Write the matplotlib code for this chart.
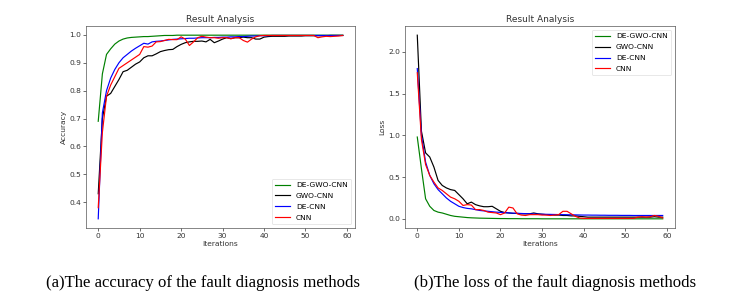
import matplotlib
matplotlib.use("Agg")
import matplotlib.pyplot as plt
import numpy as np

iterations = list(range(60))

acc_degwo = [0.69, 0.86, 0.93, 0.95, 0.967, 0.978, 0.985, 0.989, 0.991, 0.992,
             0.993, 0.994, 0.994, 0.995, 0.996, 0.997, 0.998, 0.998, 0.998, 0.999,
             0.999, 0.999, 0.999, 0.999, 0.999, 0.999, 0.999, 0.999, 0.999, 0.999,
             0.999, 0.999, 0.999, 0.999, 0.999, 0.999, 0.999, 0.999, 0.999, 0.999,
             0.999, 0.999, 0.999, 0.999, 0.999, 0.999, 0.999, 0.999, 0.999, 0.999,
             0.999, 0.999, 0.999, 0.999, 0.999, 0.999, 0.999, 0.999, 0.999, 0.999]
acc_gwo = [0.43, 0.70, 0.78, 0.79, 0.815, 0.84, 0.868, 0.873, 0.884, 0.895,
           0.903, 0.918, 0.925, 0.925, 0.932, 0.94, 0.944, 0.947, 0.948, 0.958,
           0.966, 0.972, 0.975, 0.977, 0.977, 0.978, 0.975, 0.984, 0.972, 0.978,
           0.985, 0.99, 0.987, 0.99, 0.99, 0.992, 0.99, 0.99, 0.985, 0.985,
           0.992, 0.994, 0.995, 0.995, 0.995, 0.995, 0.996, 0.996, 0.996, 0.996,
           0.997, 0.997, 0.997, 0.997, 0.997, 0.997, 0.998, 0.998, 0.998, 0.998]
acc_de = [0.34, 0.72, 0.80, 0.845, 0.876, 0.90, 0.918, 0.93, 0.942, 0.952,
          0.961, 0.97, 0.967, 0.975, 0.977, 0.978, 0.98, 0.982, 0.984, 0.985,
          0.986, 0.987, 0.988, 0.988, 0.989, 0.99, 0.99, 0.99, 0.991, 0.991,
          0.992, 0.992, 0.993, 0.993, 0.994, 0.994, 0.995, 0.996, 0.996, 0.997,
          0.997, 0.997, 0.998, 0.998, 0.998, 0.998, 0.998, 0.998, 0.998, 0.998,
          0.998, 0.998, 0.998, 0.998, 0.998, 0.998, 0.998, 0.998, 0.998, 0.998]
acc_cnn = [0.38, 0.65, 0.78, 0.82, 0.85, 0.88, 0.89, 0.90, 0.91, 0.92,
           0.93, 0.958, 0.956, 0.96, 0.975, 0.976, 0.98, 0.984, 0.983, 0.983,
           0.993, 0.985, 0.962, 0.975, 0.99, 0.995, 0.992, 0.99, 0.99, 0.988,
           0.99, 0.99, 0.986, 0.99, 0.99, 0.98, 0.974, 0.985, 0.993, 0.997,
           0.998, 0.998, 0.998, 0.998, 0.998, 0.998, 0.998, 0.998, 0.998, 0.998,
           0.998, 0.998, 0.998, 0.99, 0.993, 0.995, 0.994, 0.995, 0.996, 0.998]

loss_degwo = [0.98, 0.60, 0.24, 0.15, 0.10, 0.08, 0.07, 0.055, 0.04, 0.03,
              0.025, 0.02, 0.015, 0.012, 0.01, 0.008, 0.007, 0.006, 0.005, 0.004,
              0.003, 0.003, 0.002, 0.002, 0.002, 0.001, 0.001, 0.001, 0.001, 0.001,
              0.0, 0.0, 0.0, 0.0, 0.0, 0.0, 0.0, 0.0, 0.0, 0.0,
              0.0, 0.0, 0.0, 0.0, 0.0, 0.0, 0.0, 0.0, 0.0, 0.0,
              0.0, 0.0, 0.0, 0.0, 0.0, 0.0, 0.0, 0.0, 0.0, 0.0]
loss_gwo = [2.2, 1.05, 0.79, 0.74, 0.62, 0.46, 0.40, 0.37, 0.35, 0.34,
            0.29, 0.24, 0.18, 0.20, 0.17, 0.155, 0.145, 0.145, 0.15, 0.12,
            0.09, 0.075, 0.07, 0.065, 0.065, 0.06, 0.06, 0.06, 0.07, 0.06,
            0.055, 0.05, 0.05, 0.045, 0.045, 0.04, 0.04, 0.035, 0.035, 0.03,
            0.025, 0.02, 0.02, 0.02, 0.02, 0.02, 0.02, 0.02, 0.02, 0.02,
            0.02, 0.02, 0.02, 0.02, 0.02, 0.02, 0.02, 0.025, 0.02, 0.02]
loss_de = [1.80, 1.0, 0.68, 0.52, 0.42, 0.35, 0.30, 0.25, 0.21, 0.18,
           0.15, 0.135, 0.125, 0.12, 0.11, 0.10, 0.095, 0.09, 0.085, 0.08,
           0.077, 0.074, 0.071, 0.068, 0.066, 0.064, 0.062, 0.06, 0.058, 0.056,
           0.055, 0.054, 0.053, 0.052, 0.051, 0.05, 0.049, 0.048, 0.047, 0.046,
           0.045, 0.045, 0.044, 0.044, 0.043, 0.043, 0.042, 0.042, 0.042, 0.041,
           0.041, 0.041, 0.04, 0.04, 0.04, 0.04, 0.04, 0.04, 0.04, 0.04]
loss_cnn = [1.75, 0.95, 0.65, 0.52, 0.44, 0.37, 0.34, 0.30, 0.26, 0.24,
            0.21, 0.16, 0.17, 0.165, 0.11, 0.11, 0.10, 0.08, 0.075, 0.07,
            0.05, 0.07, 0.14, 0.13, 0.06, 0.045, 0.04, 0.05, 0.05, 0.05,
            0.045, 0.045, 0.04, 0.045, 0.05, 0.09, 0.09, 0.06, 0.03, 0.01,
            0.005, 0.005, 0.005, 0.005, 0.005, 0.005, 0.005, 0.005, 0.005, 0.005,
            0.005, 0.005, 0.005, 0.02, 0.025, 0.02, 0.025, 0.04, 0.03, 0.01]

labels = ["DE-GWO-CNN", "GWO-CNN", "DE-CNN", "CNN"]
colors = ["g", "k", "b", "r"]
captions = ["(a)The accuracy of the fault diagnosis methods",
            "(b)The loss of the fault diagnosis methods"]

fs = 5.4
fig = plt.figure(figsize=(7.45, 2.99), dpi=100)
ax1 = fig.add_axes([86/745, 1-228/299, 269/745, 202/299])
ax2 = fig.add_axes([405/745, 1-228/299, 270/745, 202/299])

lw = 0.85
for ax, series, ylabel, loc in [
        (ax1, [acc_degwo, acc_gwo, acc_de, acc_cnn], "Accuracy", "lower right"),
        (ax2, [loss_degwo, loss_gwo, loss_de, loss_cnn], "Loss", "upper right")]:
    for s, lab, c in zip(series, labels, colors):
        ax.plot(iterations, s, color=c, label=lab, linewidth=lw)
    ax.set_title("Result Analysis", fontsize=6.5, color="#333333", pad=3)
    ax.set_xlabel("Iterations", fontsize=fs, color="#333333", labelpad=1.5)
    ax.set_ylabel(ylabel, fontsize=fs, color="#333333", labelpad=2)
    ax.tick_params(labelsize=fs, length=2, width=0.5, pad=1.5, colors="#333333")
    for sp in ax.spines.values():
        sp.set_linewidth(0.5)
        sp.set_color("#555555")
    ax.set_xticks([0, 10, 20, 30, 40, 50, 60])
    leg = ax.legend(loc=loc, fontsize=fs, handlelength=2.0, borderpad=0.45,
                    labelspacing=0.62, handletextpad=0.8)
    leg.get_frame().set_linewidth(0.4)

ax1.set_yticks([0.4, 0.5, 0.6, 0.7, 0.8, 0.9, 1.0])
ax2.set_yticks([0.0, 0.5, 1.0, 1.5, 2.0])

fig.text(203/745, 1-283/299, captions[0], ha="center", va="center",
         fontsize=12.1, family="Liberation Serif")
fig.text(555/745, 1-283/299, captions[1], ha="center", va="center",
         fontsize=12.1, family="Liberation Serif")

fig.savefig("out.png", dpi=100)
